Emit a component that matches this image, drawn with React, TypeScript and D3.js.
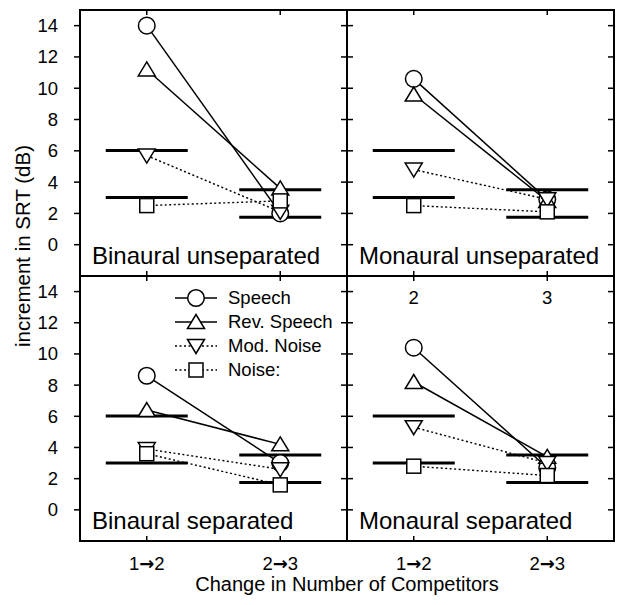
import React from 'react';
import * as d3 from 'd3';

const WIDTH = 619;
const HEIGHT = 605;
const FONT = '"Liberation Sans", Arial, Helvetica, sans-serif';

// categories on the x axis
const categories = ['1→2', '2→3'];
const seriesNames = ['Speech', 'Rev. Speech', 'Mod. Noise', 'Noise:'];
const seriesMarkers = ['circle', 'triangle', 'triangleDown', 'square'];
const seriesDotted = [false, false, true, true];

// reference predictions (dB) per category
const refLines = [
  [6.02, 3.01],
  [3.52, 1.76],
];

const panelTitles = [
  'Binaural unseparated',
  'Monaural unseparated',
  'Binaural separated',
  'Monaural separated',
];

// values per panel: [series][category]
const binauralUnsep = [
  [14.0, 2.0],
  [11.2, 3.6],
  [5.7, 2.1],
  [2.5, 2.8],
];
const monauralUnsep = [
  [10.6, 2.9],
  [9.6, 2.8],
  [4.8, 2.9],
  [2.5, 2.1],
];
const binauralSep = [
  [8.6, 3.0],
  [6.4, 4.2],
  [3.9, 2.6],
  [3.6, 1.6],
];
const monauralSep = [
  [10.4, 2.7],
  [8.2, 3.4],
  [5.3, 3.0],
  [2.8, 2.2],
];
const panelData = [binauralUnsep, monauralUnsep, binauralSep, monauralSep];

const yTicks = [0, 2, 4, 6, 8, 10, 12, 14];
const extraLabels = ['2', '3'];

// frame geometry
const L = 80;
const M = 347;
const R = 614;
const T = 10;
const H = 276;
const B = 541;

const Marker = ({ type, x, y }: { type: string; x: number; y: number }) => {
  const common = { fill: '#fff', stroke: '#000', strokeWidth: 1.5 };
  if (type === 'circle') return <circle cx={x} cy={y} r={8.3} {...common} />;
  if (type === 'square') return <rect x={x - 7} y={y - 7} width={14} height={14} {...common} />;
  if (type === 'triangle')
    return <path d={`M${x},${y - 7.5}L${x + 8.5},${y + 6.5}L${x - 8.5},${y + 6.5}Z`} {...common} />;
  return <path d={`M${x},${y + 7.5}L${x + 8.5},${y - 6.5}L${x - 8.5},${y - 6.5}Z`} {...common} />;
};

const Panel = ({
  x0,
  x1,
  y0,
  y1,
  data,
  title,
  legend,
  extra,
}: {
  x0: number;
  x1: number;
  y0: number;
  y1: number;
  data: number[][];
  title: string;
  legend?: boolean;
  extra?: boolean;
}) => {
  const xScale = d3.scalePoint<string>().domain(categories).range([x0, x1]).padding(0.5);
  const yScale = d3.scaleLinear().domain([-2, 15]).range([y1, y0]);
  const line = d3
    .line<number>()
    .x((_, i) => xScale(categories[i]) as number)
    .y((d) => yScale(d));

  return (
    <g>
      {refLines.map((vals, ci) =>
        vals.map((v, j) => (
          <line
            key={`r-${ci}-${j}`}
            x1={(xScale(categories[ci]) as number) - 41}
            x2={(xScale(categories[ci]) as number) + 41}
            y1={yScale(v)}
            y2={yScale(v)}
            stroke="#000"
            strokeWidth={3}
          />
        ))
      )}
      {data.map((vals, si) => (
        <g key={`s-${si}`}>
          <path
            d={line(vals) || ''}
            fill="none"
            stroke="#000"
            strokeWidth={seriesDotted[si] ? 1.4 : 1.5}
            strokeDasharray={seriesDotted[si] ? '2,2.5' : undefined}
          />
          {vals.map((v, ci) => (
            <Marker
              key={`m-${si}-${ci}`}
              type={seriesMarkers[si]}
              x={xScale(categories[ci]) as number}
              y={yScale(v)}
            />
          ))}
        </g>
      ))}
      <text x={x0 + 12} y={y1 - 12} fontSize={24} fontFamily={FONT}>
        {title}
      </text>
      {legend &&
        seriesNames.map((name, si) => {
          const ly = y0 + 22 + si * 24;
          return (
            <g key={`l-${si}`}>
              <line
                x1={175}
                x2={217}
                y1={ly}
                y2={ly}
                stroke="#000"
                strokeWidth={1.5}
                strokeDasharray={seriesDotted[si] ? '2,2.5' : undefined}
              />
              <Marker type={seriesMarkers[si]} x={196} y={ly} />
              <text x={228} y={ly} dy="0.35em" fontSize={18.5} fontFamily={FONT}>
                {name}
              </text>
            </g>
          );
        })}
      {extra &&
        extraLabels.map((lab, ci) => (
          <text
            key={`e-${ci}`}
            x={xScale(categories[ci]) as number}
            y={y0 + 22}
            dy="0.35em"
            textAnchor="middle"
            fontSize={18.5}
            fontFamily={FONT}
          >
            {lab}
          </text>
        ))}
    </g>
  );
};

const App = () => {
  const yTop = d3.scaleLinear().domain([-2, 15]).range([H, T]);
  const yBot = d3.scaleLinear().domain([-2, 15]).range([B, H]);
  const xLeft = d3.scalePoint<string>().domain(categories).range([L, M]).padding(0.5);
  const xRight = d3.scalePoint<string>().domain(categories).range([M, R]).padding(0.5);
  const xs = [
    ...categories.map((c) => xLeft(c) as number),
    ...categories.map((c) => xRight(c) as number),
  ];
  const xLabels = [...categories, ...categories];

  return (
    <svg
      width={WIDTH}
      height={HEIGHT}
      viewBox={`0 0 ${WIDTH} ${HEIGHT}`}
      style={{ position: 'absolute', left: 0, top: 0, background: '#fff' }}
    >
      <rect x={0} y={0} width={WIDTH} height={HEIGHT} fill="#fff" />
      <Panel x0={L} x1={M} y0={T} y1={H} data={panelData[0]} title={panelTitles[0]} />
      <Panel x0={M} x1={R} y0={T} y1={H} data={panelData[1]} title={panelTitles[1]} />
      <Panel x0={L} x1={M} y0={H} y1={B} data={panelData[2]} title={panelTitles[2]} legend />
      <Panel x0={M} x1={R} y0={H} y1={B} data={panelData[3]} title={panelTitles[3]} extra />

      {/* frame */}
      <rect x={L} y={T} width={R - L} height={B - T} fill="none" stroke="#000" strokeWidth={2} />
      <line x1={M} x2={M} y1={T} y2={B} stroke="#000" strokeWidth={2} />
      <line x1={L} x2={R} y1={H} y2={H} stroke="#000" strokeWidth={2} />

      {/* y ticks */}
      {[yTop, yBot].map((ys, k) =>
        yTicks.map((t) => (
          <g key={`yt-${k}-${t}`}>
            <line x1={L - 6} x2={L} y1={ys(t)} y2={ys(t)} stroke="#000" strokeWidth={1.5} />
            <line x1={M - 6} x2={M + 6} y1={ys(t)} y2={ys(t)} stroke="#000" strokeWidth={1.5} />
            <line x1={R - 6} x2={R} y1={ys(t)} y2={ys(t)} stroke="#000" strokeWidth={1.5} />
            <text
              x={58}
              y={ys(t)}
              dy="0.35em"
              textAnchor="end"
              fontSize={18.5}
              fontFamily={FONT}
            >
              {t}
            </text>
          </g>
        ))
      )}

      {/* x ticks */}
      {xs.map((x, i) => {
        const [a, b] = xLabels[i].split('→');
        return (
          <g key={`xt-${i}`}>
            <line x1={x} x2={x} y1={T} y2={T + 5} stroke="#000" strokeWidth={1.5} />
            <line x1={x} x2={x} y1={H - 5} y2={H + 5} stroke="#000" strokeWidth={1.5} />
            <line x1={x} x2={x} y1={B - 5} y2={B} stroke="#000" strokeWidth={1.5} />
            <text x={x} y={570} textAnchor="middle" fontSize={18.5} fontFamily={FONT}>
              {a}
              <tspan fontFamily='"DejaVu Sans", sans-serif' fontWeight="bold" fontSize={18}>
                →
              </tspan>
              {b}
            </text>
          </g>
        );
      })}

      <text x={(L + R) / 2} y={591} textAnchor="middle" fontSize={20} fontFamily={FONT}>
        Change in Number of Competitors
      </text>
      <text
        transform={`translate(30, 246) rotate(-90)`}
        textAnchor="middle"
        fontSize={20.5}
        fontFamily={FONT}
      >
        increment in SRT (dB)
      </text>
    </svg>
  );
};

export default App;
